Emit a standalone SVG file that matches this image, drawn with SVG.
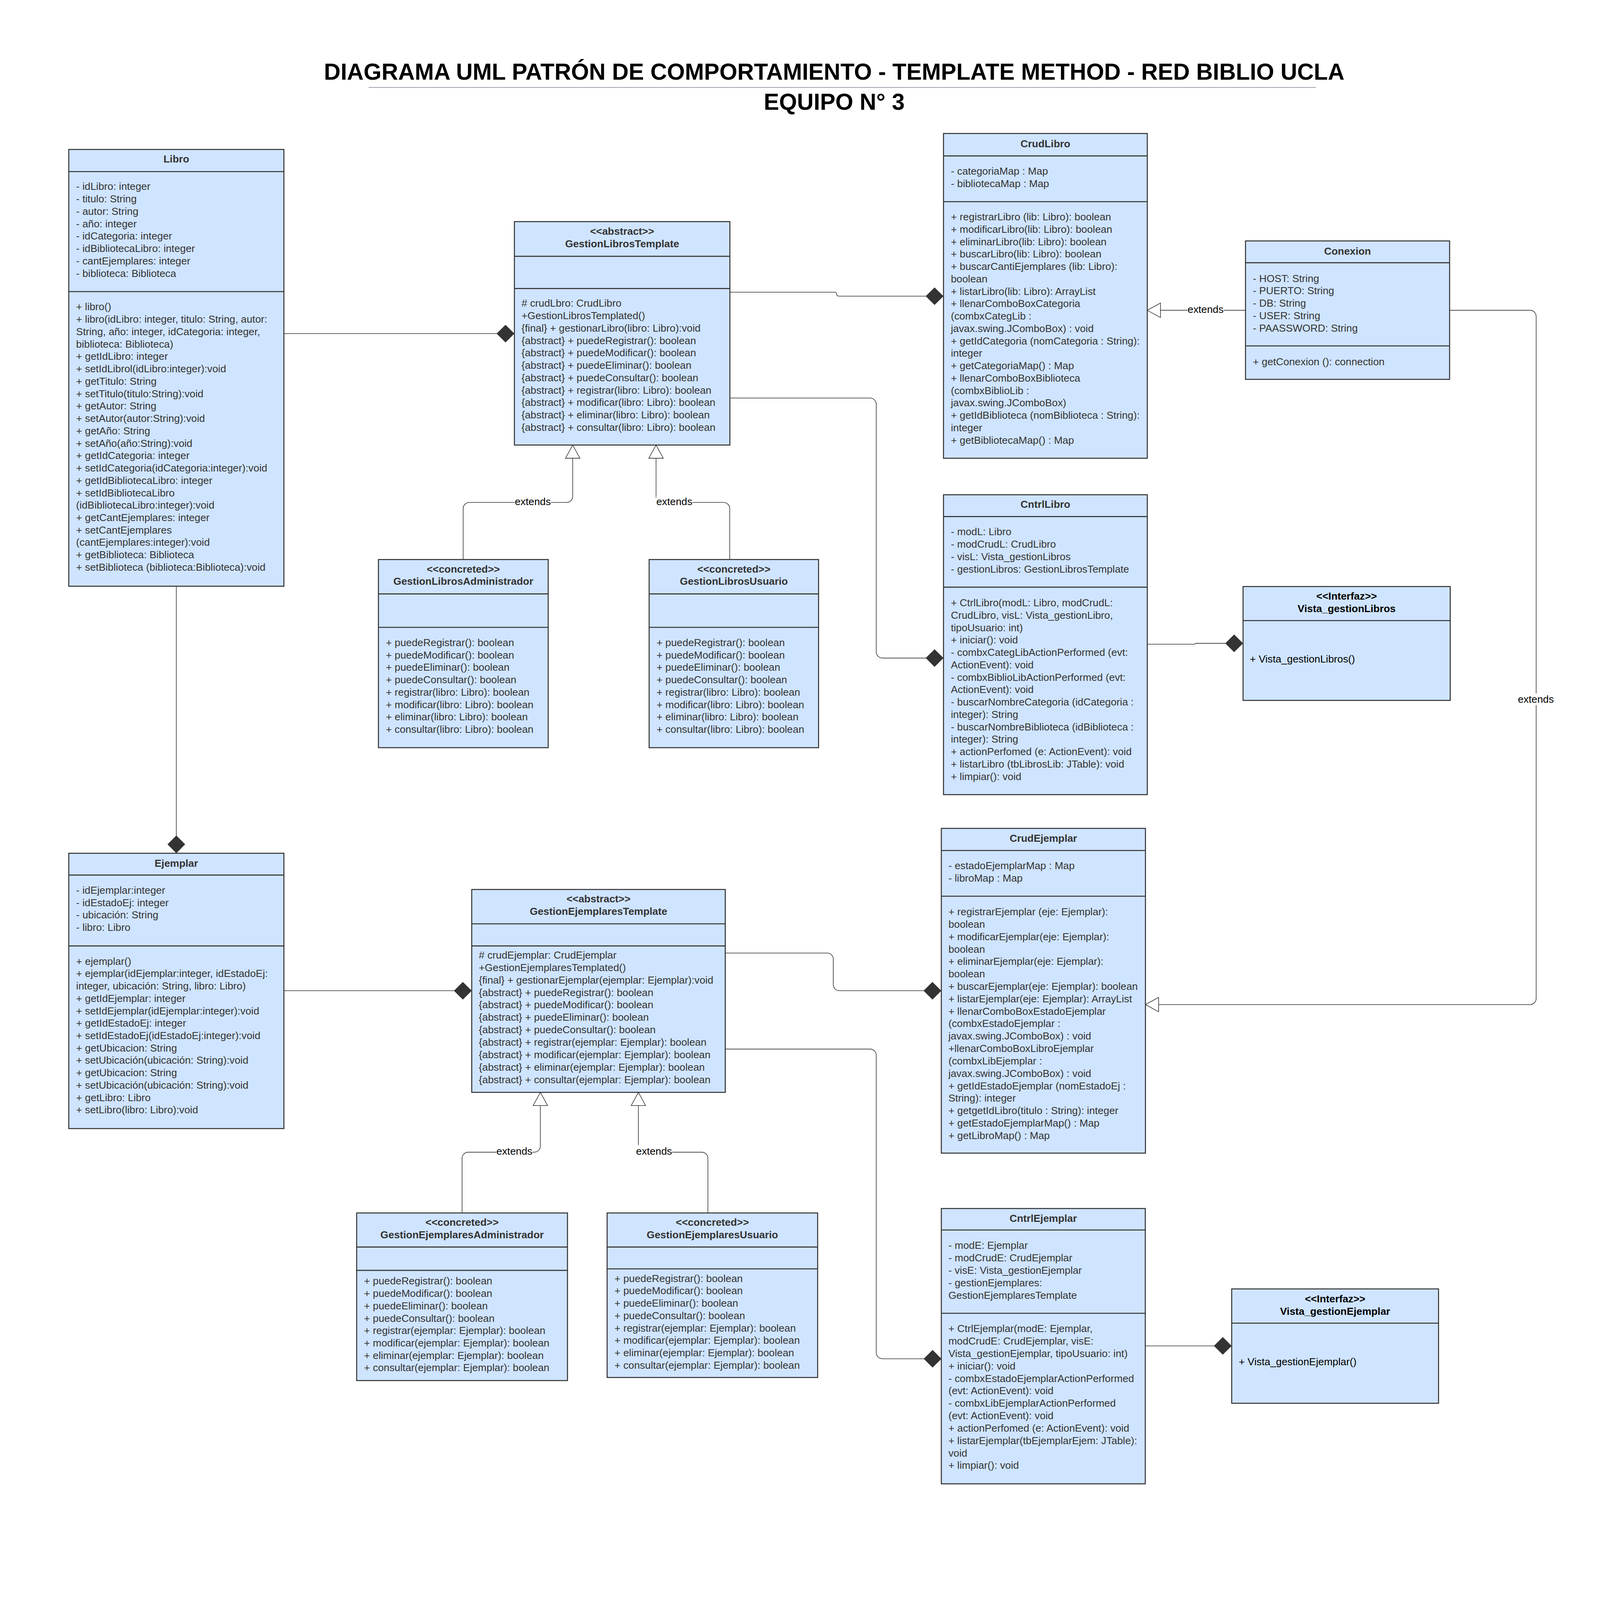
<svg xmlns="http://www.w3.org/2000/svg" width="5213" height="5030" viewBox="0 0 5213 5030" preserveAspectRatio="xMinYMin meet">
<style>
:root{width:100vw;height:100vh}
.bg{fill:#ffffff}
.box{fill:#cfe4ff;stroke:#333333;stroke-width:3.3}
.dv{stroke:#333333;stroke-width:3.3}
.t{font-family:"Liberation Sans",Arial,sans-serif;font-size:33.5px;fill:#333333}
.h{font-weight:bold;text-anchor:middle}
.k{fill:#000000}
.title{font-family:"Liberation Sans",Arial,sans-serif;font-size:75px;font-weight:bold;fill:#000000;text-anchor:middle}
.conn{fill:none;stroke:#333333;stroke-width:2}
.lbl{font-family:"Liberation Sans",Arial,sans-serif;font-size:33.5px;fill:#000000;text-anchor:middle}
.lblbg{fill:#ffffff}
</style>
<defs>
<marker id="dia" markerUnits="userSpaceOnUse" markerWidth="60" markerHeight="60" viewBox="0 -30 60 60" refX="58" refY="0" orient="auto" overflow="visible">
<path d="M0,0 L29,-28.75 L58,0 L29,28.75 Z" fill="#333333"/>
</marker>
<marker id="tri" markerUnits="userSpaceOnUse" markerWidth="50" markerHeight="50" viewBox="0 -25 50 50" refX="44" refY="0" orient="auto" overflow="visible">
<path d="M1,-23.5 L44,0 L1,23.5 Z" fill="#ffffff" stroke="#333333" stroke-width="2"/>
</marker>
</defs>
<rect class="bg" x="0" y="0" width="5213" height="5030"/>

<g id="title">
<text class="title" x="2718" y="260">DIAGRAMA UML PATRÓN DE COMPORTAMIENTO - TEMPLATE METHOD - RED BIBLIO UCLA</text>
<line x1="1201" y1="285" x2="4288" y2="285" stroke="#a5aab4" stroke-width="3"/>
<text class="title" x="2718" y="357">EQUIPO N° 3</text>
</g>

<g id="connectors">
<path class="conn" d="M925,1087 H1676" marker-end="url(#dia)"/>
<path class="conn" d="M574.5,1910 V2780" marker-end="url(#dia)"/>
<path class="conn" d="M2378,952 H2718 Q2726,952 2726,958.5 Q2726,965 2734,965 H3074" marker-end="url(#dia)"/>
<path class="conn" d="M2378,1297 H2835 A20,20 0 0 1 2855,1317 V2124 A20,20 0 0 0 2875,2144 H3074" marker-end="url(#dia)"/>
<path class="conn" d="M3738,2099 H3893 L3896,2096 H4050" marker-end="url(#dia)"/>
<path class="conn" d="M925,3228 H1537" marker-end="url(#dia)"/>
<path class="conn" d="M2363,3105 H2695 A20,20 0 0 1 2715,3125 V3208 A20,20 0 0 0 2735,3228 H3067" marker-end="url(#dia)"/>
<path class="conn" d="M2363,3418 H2835 A20,20 0 0 1 2855,3438 V4407 A20,20 0 0 0 2875,4427 H3067.5" marker-end="url(#dia)"/>
<path class="conn" d="M3731.5,4385 H4013" marker-end="url(#dia)"/>
<path class="conn" d="M4058,1011 H3738" marker-end="url(#tri)"/>
<path class="conn" d="M4723,1011 H4985 A20,20 0 0 1 5005,1031 V3253 A20,20 0 0 1 4985,3273 H3732" marker-end="url(#tri)"/>
<path class="conn" d="M1509,1823 V1657 A20,20 0 0 1 1529,1637 H1846 A20,20 0 0 0 1866,1617 V1450" marker-end="url(#tri)"/>
<path class="conn" d="M2377.6,1823 V1657 A20,20 0 0 0 2357.6,1637 H2157.5 A20,20 0 0 1 2137.5,1617 V1450" marker-end="url(#tri)"/>
<path class="conn" d="M1505.5,3952 V3774 A20,20 0 0 1 1525.5,3754 H1740.6 A20,20 0 0 0 1760.6,3734 V3559" marker-end="url(#tri)"/>
<path class="conn" d="M2306.5,3952 V3774 A20,20 0 0 0 2286.5,3754 H2100 A20,20 0 0 1 2080,3734 V3559" marker-end="url(#tri)"/>
<rect class="lblbg" x="1677" y="1614" width="118" height="38"/>
<text class="lbl" x="1736" y="1645">extends</text>
<rect class="lblbg" x="2138" y="1614" width="118" height="38"/>
<text class="lbl" x="2197" y="1645">extends</text>
<rect class="lblbg" x="3869" y="989" width="118" height="38"/>
<text class="lbl" x="3928" y="1020">extends</text>
<rect class="lblbg" x="1617" y="3731" width="118" height="38"/>
<text class="lbl" x="1676" y="3762">extends</text>
<rect class="lblbg" x="2072" y="3731" width="118" height="38"/>
<text class="lbl" x="2131" y="3762">extends</text>
<rect class="lblbg" x="4945" y="2259" width="118" height="38"/>
<text class="lbl" x="5004" y="2290">extends</text>
</g>

<g id="Libro">
<rect class="box" x="224" y="487" width="701" height="1423"/>
<line class="dv" x1="224" y1="559" x2="925" y2="559"/>
<line class="dv" x1="224" y1="950" x2="925" y2="950"/>
<text class="t h" x="574.5" y="529">Libro</text>
<text class="t"><tspan x="248" y="619">- idLibro: integer</tspan><tspan x="248" dy="40.4">- titulo: String</tspan><tspan x="248" dy="40.4">- autor: String</tspan><tspan x="248" dy="40.4">- año: integer</tspan><tspan x="248" dy="40.4">- idCategoria: integer</tspan><tspan x="248" dy="40.4">- idBibliotecaLibro: integer</tspan><tspan x="248" dy="40.4">- cantEjemplares: integer</tspan><tspan x="248" dy="40.4">- biblioteca: Biblioteca</tspan></text>
<text class="t"><tspan x="248" y="1011">+ libro()</tspan><tspan x="248" dy="40.4">+ libro(idLibro: integer, titulo: String, autor:</tspan><tspan x="248" dy="40.4">String, año: integer, idCategoria: integer,</tspan><tspan x="248" dy="40.4">biblioteca: Biblioteca)</tspan><tspan x="248" dy="40.4">+ getIdLibro: integer</tspan><tspan x="248" dy="40.4">+ setIdLibrol(idLibro:integer):void</tspan><tspan x="248" dy="40.4">+ getTitulo: String</tspan><tspan x="248" dy="40.4">+ setTitulo(titulo:String):void</tspan><tspan x="248" dy="40.4">+ getAutor: String</tspan><tspan x="248" dy="40.4">+ setAutor(autor:String):void</tspan><tspan x="248" dy="40.4">+ getAño: String</tspan><tspan x="248" dy="40.4">+ setAño(año:String):void</tspan><tspan x="248" dy="40.4">+ getIdCategoria: integer</tspan><tspan x="248" dy="40.4">+ setIdCategoria(idCategoria:integer):void</tspan><tspan x="248" dy="40.4">+ getIdBibliotecaLibro: integer</tspan><tspan x="248" dy="40.4">+ setIdBibliotecaLibro</tspan><tspan x="248" dy="40.4">(idBibliotecaLibro:integer):void</tspan><tspan x="248" dy="40.4">+ getCantEjemplares: integer</tspan><tspan x="248" dy="40.4">+ setCantEjemplares</tspan><tspan x="248" dy="40.4">(cantEjemplares:integer):void</tspan><tspan x="248" dy="40.4">+ getBiblioteca: Biblioteca</tspan><tspan x="248" dy="40.4">+ setBiblioteca (biblioteca:Biblioteca):void</tspan></text>
</g>

<g id="GestionLibrosTemplate">
<rect class="box" x="1676" y="722" width="702" height="728"/>
<line class="dv" x1="1676" y1="835" x2="2378" y2="835"/>
<line class="dv" x1="1676" y1="940" x2="2378" y2="940"/>
<text class="t h"><tspan x="2027" y="765">&lt;&lt;abstract&gt;&gt;</tspan><tspan x="2027" y="805">GestionLibrosTemplate</tspan></text>
<text class="t"><tspan x="1699" y="999.5"># crudLbro: CrudLibro</tspan><tspan x="1699" dy="40.4">+GestionLibrosTemplated()</tspan><tspan x="1699" dy="40.4">{final} + gestionarLibro(libro: Libro):void</tspan><tspan x="1699" dy="40.4">{abstract} + puedeRegistrar(): boolean</tspan><tspan x="1699" dy="40.4">{abstract} + puedeModificar(): boolean</tspan><tspan x="1699" dy="40.4">{abstract} + puedeEliminar(): boolean</tspan><tspan x="1699" dy="40.4">{abstract} + puedeConsultar(): boolean</tspan><tspan x="1699" dy="40.4">{abstract} + registrar(libro: Libro): boolean</tspan><tspan x="1699" dy="40.4">{abstract} + modificar(libro: Libro): boolean</tspan><tspan x="1699" dy="40.4">{abstract} + eliminar(libro: Libro): boolean</tspan><tspan x="1699" dy="40.4">{abstract} + consultar(libro: Libro): boolean</tspan></text>
</g>

<g id="GestionLibrosAdministrador">
<rect class="box" x="1233" y="1823" width="553" height="613"/>
<line class="dv" x1="1233" y1="1935" x2="1786" y2="1935"/>
<line class="dv" x1="1233" y1="2044" x2="1786" y2="2044"/>
<text class="t h"><tspan x="1509.5" y="1866">&lt;&lt;concreted&gt;&gt;</tspan><tspan x="1509.5" y="1905">GestionLibrosAdministrador</tspan></text>
<text class="t"><tspan x="1257" y="2105">+ puedeRegistrar(): boolean</tspan><tspan x="1257" dy="40.4">+ puedeModificar(): boolean</tspan><tspan x="1257" dy="40.4">+ puedeEliminar(): boolean</tspan><tspan x="1257" dy="40.4">+ puedeConsultar(): boolean</tspan><tspan x="1257" dy="40.4">+ registrar(libro: Libro): boolean</tspan><tspan x="1257" dy="40.4">+ modificar(libro: Libro): boolean</tspan><tspan x="1257" dy="40.4">+ eliminar(libro: Libro): boolean</tspan><tspan x="1257" dy="40.4">+ consultar(libro: Libro): boolean</tspan></text>
</g>

<g id="GestionLibrosUsuario">
<rect class="box" x="2115" y="1823" width="552" height="613"/>
<line class="dv" x1="2115" y1="1935" x2="2667" y2="1935"/>
<line class="dv" x1="2115" y1="2044" x2="2667" y2="2044"/>
<text class="t h"><tspan x="2391" y="1866">&lt;&lt;concreted&gt;&gt;</tspan><tspan x="2391" y="1905">GestionLibrosUsuario</tspan></text>
<text class="t"><tspan x="2139" y="2105">+ puedeRegistrar(): boolean</tspan><tspan x="2139" dy="40.4">+ puedeModificar(): boolean</tspan><tspan x="2139" dy="40.4">+ puedeEliminar(): boolean</tspan><tspan x="2139" dy="40.4">+ puedeConsultar(): boolean</tspan><tspan x="2139" dy="40.4">+ registrar(libro: Libro): boolean</tspan><tspan x="2139" dy="40.4">+ modificar(libro: Libro): boolean</tspan><tspan x="2139" dy="40.4">+ eliminar(libro: Libro): boolean</tspan><tspan x="2139" dy="40.4">+ consultar(libro: Libro): boolean</tspan></text>
</g>

<g id="CrudLibro">
<rect class="box" x="3074" y="435" width="664" height="1058"/>
<line class="dv" x1="3074" y1="508" x2="3738" y2="508"/>
<line class="dv" x1="3074" y1="657" x2="3738" y2="657"/>
<text class="t h" x="3406" y="480">CrudLibro</text>
<text class="t"><tspan x="3098" y="569">- categoriaMap : Map</tspan><tspan x="3098" dy="40.4">- bibliotecaMap : Map</tspan></text>
<text class="t"><tspan x="3098" y="718">+ registrarLibro (lib: Libro): boolean</tspan><tspan x="3098" dy="40.4">+ modificarLibro(lib: Libro): boolean</tspan><tspan x="3098" dy="40.4">+ eliminarLibro(lib: Libro): boolean</tspan><tspan x="3098" dy="40.4">+ buscarLibro(lib: Libro): boolean</tspan><tspan x="3098" dy="40.4">+ buscarCantiEjemplares (lib: Libro):</tspan><tspan x="3098" dy="40.4">boolean</tspan><tspan x="3098" dy="40.4">+ listarLibro(lib: Libro): ArrayList</tspan><tspan x="3098" dy="40.4">+ llenarComboBoxCategoria</tspan><tspan x="3098" dy="40.4">(combxCategLib :</tspan><tspan x="3098" dy="40.4">javax.swing.JComboBox) : void</tspan><tspan x="3098" dy="40.4">+ getIdCategoria (nomCategoria : String):</tspan><tspan x="3098" dy="40.4">integer</tspan><tspan x="3098" dy="40.4">+ getCategoriaMap() : Map</tspan><tspan x="3098" dy="40.4">+ llenarComboBoxBiblioteca</tspan><tspan x="3098" dy="40.4">(combxBiblioLib :</tspan><tspan x="3098" dy="40.4">javax.swing.JComboBox)</tspan><tspan x="3098" dy="40.4">+ getIdBiblioteca (nomBiblioteca : String):</tspan><tspan x="3098" dy="40.4">integer</tspan><tspan x="3098" dy="40.4">+ getBibliotecaMap() : Map</tspan></text>
</g>

<g id="Conexion">
<rect class="box" x="4058" y="785" width="665" height="451"/>
<line class="dv" x1="4058" y1="856" x2="4723" y2="856"/>
<line class="dv" x1="4058" y1="1127" x2="4723" y2="1127"/>
<text class="t h" x="4390.5" y="830">Conexion</text>
<text class="t"><tspan x="4082" y="918.5">- HOST: String</tspan><tspan x="4082" dy="40.4">- PUERTO: String</tspan><tspan x="4082" dy="40.4">- DB: String</tspan><tspan x="4082" dy="40.4">- USER: String</tspan><tspan x="4082" dy="40.4">- PAASSWORD: String</tspan></text>
<text class="t" x="4082" y="1190">+ getConexion (): connection</text>
</g>

<g id="CntrlLibro">
<rect class="box" x="3074" y="1612" width="664" height="977"/>
<line class="dv" x1="3074" y1="1683" x2="3738" y2="1683"/>
<line class="dv" x1="3074" y1="1913" x2="3738" y2="1913"/>
<text class="t h" x="3406" y="1655">CntrlLibro</text>
<text class="t"><tspan x="3098" y="1744">- modL: Libro</tspan><tspan x="3098" dy="40.5">- modCrudL: CrudLibro</tspan><tspan x="3098" dy="40.5">- visL: Vista_gestionLibros</tspan><tspan x="3098" dy="40.5">- gestionLibros: GestionLibrosTemplate</tspan></text>
<text class="t"><tspan x="3098" y="1975.4">+ CtrlLibro(modL: Libro, modCrudL:</tspan><tspan x="3098" dy="40.4">CrudLibro, visL: Vista_gestionLibro,</tspan><tspan x="3098" dy="40.4">tipoUsuario: int)</tspan><tspan x="3098" dy="40.4">+ iniciar(): void</tspan><tspan x="3098" dy="40.4">- combxCategLibActionPerformed (evt:</tspan><tspan x="3098" dy="40.4">ActionEvent): void</tspan><tspan x="3098" dy="40.4">- combxBiblioLibActionPerformed (evt:</tspan><tspan x="3098" dy="40.4">ActionEvent): void</tspan><tspan x="3098" dy="40.4">- buscarNombreCategoria (idCategoria :</tspan><tspan x="3098" dy="40.4">integer): String</tspan><tspan x="3098" dy="40.4">- buscarNombreBiblioteca (idBiblioteca :</tspan><tspan x="3098" dy="40.4">integer): String</tspan><tspan x="3098" dy="40.4">+ actionPerfomed (e: ActionEvent): void</tspan><tspan x="3098" dy="40.4">+ listarLibro (tbLibrosLib: JTable): void</tspan><tspan x="3098" dy="40.4">+ limpiar(): void</tspan></text>
</g>

<g id="Vista_gestionLibros">
<rect class="box" x="4050" y="1911" width="675" height="371"/>
<line class="dv" x1="4050" y1="2022" x2="4725" y2="2022"/>
<text class="t h k"><tspan x="4387.5" y="1954">&lt;&lt;Interfaz&gt;&gt;</tspan><tspan x="4387.5" y="1994">Vista_gestionLibros</tspan></text>
<text class="t k" x="4072" y="2158">+ Vista_gestionLibros()</text>
</g>

<g id="Ejemplar">
<rect class="box" x="224" y="2780" width="701" height="897"/>
<line class="dv" x1="224" y1="2851" x2="925" y2="2851"/>
<line class="dv" x1="224" y1="3082" x2="925" y2="3082"/>
<text class="t h" x="574.5" y="2824">Ejemplar</text>
<text class="t"><tspan x="248" y="2912">- idEjemplar:integer</tspan><tspan x="248" dy="40.2">- idEstadoEj: integer</tspan><tspan x="248" dy="40.2">- ubicación: String</tspan><tspan x="248" dy="40.2">- libro: Libro</tspan></text>
<text class="t"><tspan x="248" y="3143">+ ejemplar()</tspan><tspan x="248" dy="40.4">+ ejemplar(idEjemplar:integer, idEstadoEj:</tspan><tspan x="248" dy="40.4">integer, ubicación: String, libro: Libro)</tspan><tspan x="248" dy="40.4">+ getIdEjemplar: integer</tspan><tspan x="248" dy="40.4">+ setIdEjemplar(idEjemplar:integer):void</tspan><tspan x="248" dy="40.4">+ getIdEstadoEj: integer</tspan><tspan x="248" dy="40.4">+ setIdEstadoEj(idEstadoEj:integer):void</tspan><tspan x="248" dy="40.4">+ getUbicacion: String</tspan><tspan x="248" dy="40.4">+ setUbicación(ubicación: String):void</tspan><tspan x="248" dy="40.4">+ getUbicacion: String</tspan><tspan x="248" dy="40.4">+ setUbicación(ubicación: String):void</tspan><tspan x="248" dy="40.4">+ getLibro: Libro</tspan><tspan x="248" dy="40.4">+ setLibro(libro: Libro):void</tspan></text>
</g>

<g id="GestionEjemplaresTemplate">
<rect class="box" x="1537" y="2898" width="826" height="661"/>
<line class="dv" x1="1537" y1="3010" x2="2363" y2="3010"/>
<line class="dv" x1="1537" y1="3082" x2="2363" y2="3082"/>
<text class="t h"><tspan x="1950" y="2940">&lt;&lt;abstract&gt;&gt;</tspan><tspan x="1950" y="2981">GestionEjemplaresTemplate</tspan></text>
<text class="t"><tspan x="1560" y="3123"># crudEjemplar: CrudEjemplar</tspan><tspan x="1560" dy="40.6">+GestionEjemplaresTemplated()</tspan><tspan x="1560" dy="40.6">{final} + gestionarEjemplar(ejemplar: Ejemplar):void</tspan><tspan x="1560" dy="40.6">{abstract} + puedeRegistrar(): boolean</tspan><tspan x="1560" dy="40.6">{abstract} + puedeModificar(): boolean</tspan><tspan x="1560" dy="40.6">{abstract} + puedeEliminar(): boolean</tspan><tspan x="1560" dy="40.6">{abstract} + puedeConsultar(): boolean</tspan><tspan x="1560" dy="40.6">{abstract} + registrar(ejemplar: Ejemplar): boolean</tspan><tspan x="1560" dy="40.6">{abstract} + modificar(ejemplar: Ejemplar): boolean</tspan><tspan x="1560" dy="40.6">{abstract} + eliminar(ejemplar: Ejemplar): boolean</tspan><tspan x="1560" dy="40.6">{abstract} + consultar(ejemplar: Ejemplar): boolean</tspan></text>
</g>

<g id="GestionEjemplaresAdministrador">
<rect class="box" x="1162" y="3952" width="687" height="546"/>
<line class="dv" x1="1162" y1="4063" x2="1849" y2="4063"/>
<line class="dv" x1="1162" y1="4139" x2="1849" y2="4139"/>
<text class="t h"><tspan x="1505.5" y="3994">&lt;&lt;concreted&gt;&gt;</tspan><tspan x="1505.5" y="4034">GestionEjemplaresAdministrador</tspan></text>
<text class="t"><tspan x="1186" y="4185">+ puedeRegistrar(): boolean</tspan><tspan x="1186" dy="40.4">+ puedeModificar(): boolean</tspan><tspan x="1186" dy="40.4">+ puedeEliminar(): boolean</tspan><tspan x="1186" dy="40.4">+ puedeConsultar(): boolean</tspan><tspan x="1186" dy="40.4">+ registrar(ejemplar: Ejemplar): boolean</tspan><tspan x="1186" dy="40.4">+ modificar(ejemplar: Ejemplar): boolean</tspan><tspan x="1186" dy="40.4">+ eliminar(ejemplar: Ejemplar): boolean</tspan><tspan x="1186" dy="40.4">+ consultar(ejemplar: Ejemplar): boolean</tspan></text>
</g>

<g id="GestionEjemplaresUsuario">
<rect class="box" x="1978" y="3952" width="686" height="536"/>
<line class="dv" x1="1978" y1="4063" x2="2664" y2="4063"/>
<line class="dv" x1="1978" y1="4134" x2="2664" y2="4134"/>
<text class="t h"><tspan x="2321" y="3994">&lt;&lt;concreted&gt;&gt;</tspan><tspan x="2321" y="4034">GestionEjemplaresUsuario</tspan></text>
<text class="t"><tspan x="2002" y="4176.5">+ puedeRegistrar(): boolean</tspan><tspan x="2002" dy="40.4">+ puedeModificar(): boolean</tspan><tspan x="2002" dy="40.4">+ puedeEliminar(): boolean</tspan><tspan x="2002" dy="40.4">+ puedeConsultar(): boolean</tspan><tspan x="2002" dy="40.4">+ registrar(ejemplar: Ejemplar): boolean</tspan><tspan x="2002" dy="40.4">+ modificar(ejemplar: Ejemplar): boolean</tspan><tspan x="2002" dy="40.4">+ eliminar(ejemplar: Ejemplar): boolean</tspan><tspan x="2002" dy="40.4">+ consultar(ejemplar: Ejemplar): boolean</tspan></text>
</g>

<g id="CrudEjemplar">
<rect class="box" x="3067" y="2699" width="665" height="1058"/>
<line class="dv" x1="3067" y1="2771" x2="3732" y2="2771"/>
<line class="dv" x1="3067" y1="2920" x2="3732" y2="2920"/>
<text class="t h" x="3399.5" y="2742.5">CrudEjemplar</text>
<text class="t"><tspan x="3090" y="2832">- estadoEjemplarMap : Map</tspan><tspan x="3090" dy="40.4">- libroMap : Map</tspan></text>
<text class="t"><tspan x="3090" y="2982">+ registrarEjemplar (eje: Ejemplar):</tspan><tspan x="3090" dy="40.5">boolean</tspan><tspan x="3090" dy="40.5">+ modificarEjemplar(eje: Ejemplar):</tspan><tspan x="3090" dy="40.5">boolean</tspan><tspan x="3090" dy="40.5">+ eliminarEjemplar(eje: Ejemplar):</tspan><tspan x="3090" dy="40.5">boolean</tspan><tspan x="3090" dy="40.5">+ buscarEjemplar(eje: Ejemplar): boolean</tspan><tspan x="3090" dy="40.5">+ listarEjemplar(eje: Ejemplar): ArrayList</tspan><tspan x="3090" dy="40.5">+ llenarComboBoxEstadoEjemplar</tspan><tspan x="3090" dy="40.5">(combxEstadoEjemplar :</tspan><tspan x="3090" dy="40.5">javax.swing.JComboBox) : void</tspan><tspan x="3090" dy="40.5">+llenarComboBoxLibroEjemplar</tspan><tspan x="3090" dy="40.5">(combxLibEjemplar :</tspan><tspan x="3090" dy="40.5">javax.swing.JComboBox) : void</tspan><tspan x="3090" dy="40.5">+ getIdEstadoEjemplar (nomEstadoEj :</tspan><tspan x="3090" dy="40.5">String): integer</tspan><tspan x="3090" dy="40.5">+ getgetIdLibro(titulo : String): integer</tspan><tspan x="3090" dy="40.5">+ getEstadoEjemplarMap() : Map</tspan><tspan x="3090" dy="40.5">+ getLibroMap() : Map</tspan></text>
</g>

<g id="CntrlEjemplar">
<rect class="box" x="3067" y="3937.5" width="664.5" height="897"/>
<line class="dv" x1="3067" y1="4007.5" x2="3731.5" y2="4007.5"/>
<line class="dv" x1="3067" y1="4278.75" x2="3731.5" y2="4278.75"/>
<text class="t h" x="3399" y="3981">CntrlEjemplar</text>
<text class="t"><tspan x="3090" y="4069">- modE: Ejemplar</tspan><tspan x="3090" dy="40.6">- modCrudE: CrudEjemplar</tspan><tspan x="3090" dy="40.6">- visE: Vista_gestionEjemplar</tspan><tspan x="3090" dy="40.6">- gestionEjemplares:</tspan><tspan x="3090" dy="40.6">GestionEjemplaresTemplate</tspan></text>
<text class="t"><tspan x="3090" y="4340.4">+ CtrlEjemplar(modE: Ejemplar,</tspan><tspan x="3090" dy="40.5">modCrudE: CrudEjemplar, visE:</tspan><tspan x="3090" dy="40.5">Vista_gestionEjemplar, tipoUsuario: int)</tspan><tspan x="3090" dy="40.5">+ iniciar(): void</tspan><tspan x="3090" dy="40.5">- combxEstadoEjemplarActionPerformed</tspan><tspan x="3090" dy="40.5">(evt: ActionEvent): void</tspan><tspan x="3090" dy="40.5">- combxLibEjemplarActionPerformed</tspan><tspan x="3090" dy="40.5">(evt: ActionEvent): void</tspan><tspan x="3090" dy="40.5">+ actionPerfomed (e: ActionEvent): void</tspan><tspan x="3090" dy="40.5">+ listarEjemplar(tbEjemplarEjem: JTable):</tspan><tspan x="3090" dy="40.5">void</tspan><tspan x="3090" dy="40.5">+ limpiar(): void</tspan></text>
</g>

<g id="Vista_gestionEjemplar">
<rect class="box" x="4013" y="4199.5" width="674" height="372.5"/>
<line class="dv" x1="4013" y1="4311" x2="4687" y2="4311"/>
<text class="t h k"><tspan x="4350" y="4243.5">&lt;&lt;Interfaz&gt;&gt;</tspan><tspan x="4350" y="4283.5">Vista_gestionEjemplar</tspan></text>
<text class="t k" x="4036" y="4448.5">+ Vista_gestionEjemplar()</text>
</g>
</svg>
